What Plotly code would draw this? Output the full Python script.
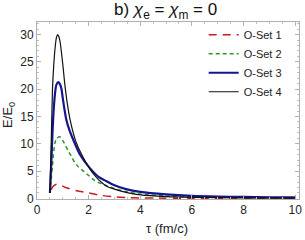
import plotly.graph_objects as go

# ---- data ----
tau_set1 = [0.55, 0.6, 0.7, 0.76, 0.9, 1.14, 1.5, 2.0, 2.5, 3.0, 3.5, 4.0, 5.0, 6.0, 8.0, 10.0]
e_set1 = [1.6, 2.1, 2.5, 2.6, 2.45, 1.95, 1.45, 1.0, 0.55, 0.3, 0.17, 0.1, 0.05, 0.03, 0.02, 0.01]

tau_set2 = [0.5, 0.55, 0.6, 0.63, 0.69, 0.75, 0.88, 1.0, 1.2, 1.33, 1.46, 1.6, 1.8, 2.0, 2.23, 2.5, 2.7, 3.0, 3.5, 4.0, 5.0, 6.0, 8.0, 10.0]
e_set2 = [1.0, 3.5, 6.0, 7.7, 10.0, 10.9, 11.3, 10.6, 8.8, 7.7, 6.6, 5.8, 5.0, 4.2, 3.3, 2.7, 2.35, 1.8, 1.2, 0.8, 0.45, 0.3, 0.15, 0.1]

tau_set3 = [0.5, 0.55, 0.6, 0.65, 0.7, 0.75, 0.83, 0.9, 0.95, 1.0, 1.14, 1.25, 1.4, 1.68, 2.04, 2.4, 2.68, 3.0, 3.45, 4.0, 5.0, 6.0, 7.0, 8.0, 9.0, 10.0]
e_set3 = [1.0, 6.0, 12.0, 16.5, 19.3, 20.8, 21.3, 20.8, 20.0, 18.3, 14.3, 12.6, 10.8, 7.9, 5.6, 3.9, 3.2, 2.4, 1.7, 1.2, 0.75, 0.48, 0.35, 0.28, 0.22, 0.18]

tau_set4 = [0.5, 0.55, 0.6, 0.65, 0.7, 0.75, 0.8, 0.85, 0.9, 1.0, 1.08, 1.17, 1.3, 1.5, 1.78, 2.17, 2.68, 3.0, 3.45, 4.0, 5.0, 6.0, 8.0, 10.0]
e_set4 = [1.0, 10.0, 20.0, 24.5, 27.5, 29.4, 30.0, 29.6, 28.5, 24.5, 20.8, 17.5, 14.0, 10.5, 7.6, 4.6, 2.3, 1.7, 1.1, 0.65, 0.33, 0.2, 0.1, 0.06]

names = ["O-Set 1", "O-Set 2", "O-Set 3", "O-Set 4"]
x_ticks = [0, 2, 4, 6, 8, 10]
y_ticks = [0, 5, 10, 15, 20, 25, 30]

FONT = "Liberation Sans, Arial, sans-serif"

fig = go.Figure()
styles = [
    dict(color="#c41e1e", width=1.5, dash="8px,6px"),
    dict(color="#2e962e", width=1.5, dash="4px,3px"),
    dict(color="#15158f", width=2.2, dash="solid"),
    dict(color="#111111", width=1.2, dash="solid"),
]
for xs, ys, nm, st in zip([tau_set1, tau_set2, tau_set3, tau_set4],
                          [e_set1, e_set2, e_set3, e_set4], names, styles):
    fig.add_trace(go.Scatter(x=xs, y=ys, mode="lines", name=nm,
                             line=dict(shape="spline", smoothing=0.8, **st)))

axis_common = dict(
    showgrid=False, zeroline=False, showline=True, mirror="ticks",
    linecolor="#b0b0b0", linewidth=1, ticks="inside", ticklen=4,
    tickcolor="#b0b0b0", tickfont=dict(family=FONT, size=12, color="#222"),
    automargin=False,
)
fig.update_layout(
    width=305, height=240,
    margin=dict(l=37, r=6, t=22, b=41),
    paper_bgcolor="white", plot_bgcolor="white",
    xaxis=dict(range=[0, 10.15], tickvals=x_ticks,
               minor=dict(dtick=0.5, ticks="inside", ticklen=2, tickcolor="#c0c0c0"),
               **axis_common),
    yaxis=dict(range=[-0.1, 32.3], tickvals=y_ticks,
               minor=dict(dtick=1, ticks="inside", ticklen=2, tickcolor="#c0c0c0"),
               **axis_common),
    legend=dict(x=0.953, y=1.01, xanchor="right", yanchor="top",
                bgcolor="rgba(0,0,0,0)", tracegroupgap=0,
                font=dict(family=FONT, size=11, color="#222"),
                itemwidth=30),
    showlegend=True,
    annotations=[
        dict(text="b) <i>χ</i><sub>e</sub> = <i>χ</i><sub>m</sub> = 0",
             xref="paper", yref="paper", x=0.287, y=1.06,
             xanchor="left", yanchor="middle", showarrow=False,
             font=dict(family=FONT, size=17, color="#111")),
        dict(text="τ (fm/c)", xref="paper", yref="paper", x=0.497, y=-0.164,
             xanchor="center", yanchor="middle", showarrow=False,
             font=dict(family=FONT, size=13, color="#222")),
        dict(text="E/E<sub>0</sub>", xref="paper", yref="paper", x=-0.107, y=0.475,
             xanchor="center", yanchor="middle", showarrow=False, textangle=-90,
             font=dict(family=FONT, size=13, color="#222")),
    ],
)

fig.write_html("out.html", config={"displayModeBar": False},
               post_script="document.body.style.margin='0';document.body.style.padding='0';")
